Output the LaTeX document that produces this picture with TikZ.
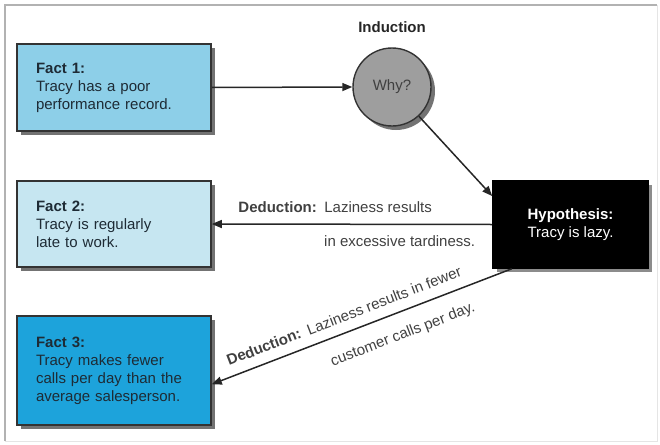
\documentclass[tikz,border=0pt]{standalone}
\usepackage{fontspec}
\setmainfont{Liberation Sans}
\usetikzlibrary{arrows.meta,shadows}
\definecolor{factone}{HTML}{8DCFE8}
\definecolor{facttwo}{HTML}{C6E6F1}
\definecolor{factthree}{HTML}{1DA3DB}
\definecolor{facttext}{HTML}{1E2B35}
\begin{document}
\begin{tikzpicture}[x=1pt, y=-1pt, font=\fontsize{15}{18}\selectfont, >={Triangle[length=10pt,width=8pt]},
  factbox/.style={draw=black!80, line width=1.6pt, fill=#1, minimum width=194pt, text width=156pt, inner xsep=19pt, align=left, text=facttext,
    drop shadow={shadow xshift=4pt, shadow yshift=-4pt, fill=black!55, opacity=1}},
  arr/.style={->, draw=black!85, line width=1.5pt},
  lbl/.style={text=black!75, inner sep=1pt}]
  \useasboundingbox (0,0) rectangle (660,444);
  % Frame
  \draw[gray!60, line width=1.5pt] (5,441) -- (5,5) -- (657,5);
  \draw[gray!20, line width=1pt] (657,5) -- (657,441) -- (5,441);

  % Boxes
  \node[factbox=factone, minimum height=87pt] (fact1) at (114,87.5) {\textbf{Fact 1:}\\Tracy has a poor\\performance record.};
  \node[factbox=facttwo, minimum height=86pt] (fact2) at (114,224) {\textbf{Fact 2:}\\Tracy is regularly\\late to work.};
  \node[factbox=factthree, minimum height=109pt] (fact3) at (114,370.5) {\textbf{Fact 3:}\\Tracy makes fewer\\calls per day than the\\average salesperson.};
  \node[draw=black, line width=1.6pt, fill=black, text=white, align=center, minimum width=155pt, minimum height=87pt,
    drop shadow={shadow xshift=4pt, shadow yshift=-4pt, fill=black!45, opacity=1}] (hyp) at (570.5,224.5) {\textbf{Hypothesis:}\\Tracy is lazy.};

  % Induction
  \node[circle, draw=black!80, line width=1.4pt, fill=black!38, text=black!75, minimum size=78pt,
    drop shadow={shadow xshift=4pt, shadow yshift=-4pt, fill=black!55, opacity=1}] (why) at (392,87) {Why?};
  \node[font=\fontsize{15}{18}\selectfont\bfseries, text=black!85] (induction) at (392,27) {Induction};

  % Arrows
  \draw[arr] (fact1.east) -- (why.west);
  \draw[arr] (why) -- (hyp.160);
  \draw[arr] (hyp.west) -- (fact2.east)
    node[lbl, pos=0.56, above=10pt] {\textbf{Deduction:}\enspace Laziness results}
    node[lbl, pos=0.33, below=10pt] {in excessive tardiness.};
  \draw[arr] (hyp.217) -- (fact3.-8)
    node[lbl, sloped, pos=0.54, above=9pt] {\textbf{Deduction:}\enspace Laziness results in fewer}
    node[lbl, sloped, pos=0.39, below=14pt] {customer calls per day.};
\end{tikzpicture}
\end{document}
